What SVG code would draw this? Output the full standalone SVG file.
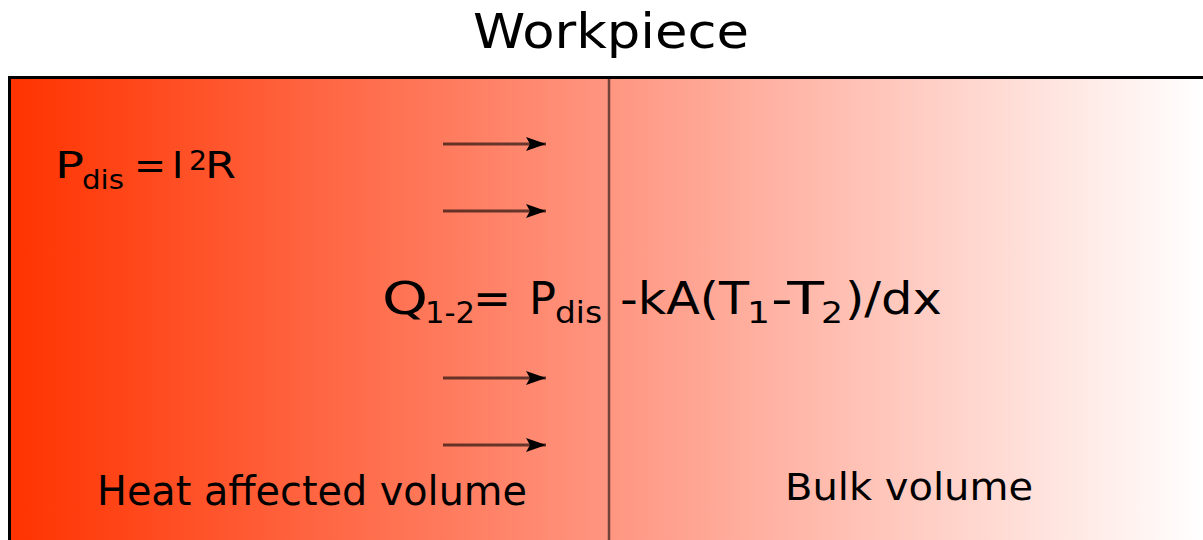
<svg xmlns="http://www.w3.org/2000/svg" width="1203" height="540" viewBox="0 0 1203 540">
<defs>
<linearGradient id="heat" x1="10" y1="0" x2="1203" y2="0" gradientUnits="userSpaceOnUse">
<stop offset="0" stop-color="#ff3300"/>
<stop offset="0.5" stop-color="#ff9580"/>
<stop offset="1" stop-color="#ffffff"/>
</linearGradient>
<marker id="ah" markerWidth="20" markerHeight="14" refX="20" refY="7" orient="auto" markerUnits="userSpaceOnUse">
<path d="M0,0 L20,7 L0,14 L4,7 Z" fill="#000"/>
</marker>
<style>
text{font-family:"DejaVu Sans","Verdana",sans-serif;fill:#000}
.m{font-size:44px}
.s{font-size:30px}
.pm{font-size:38px}
.ps{font-size:26px}
.flow{stroke:#000;stroke-opacity:0.6;stroke-width:3;fill:none}
</style>
</defs>
<rect width="1203" height="540" fill="#fff"/>
<g id="workpiece">
<rect x="9.5" y="77.5" width="1200" height="470" fill="url(#heat)" stroke="#000" stroke-width="3"/>
<line x1="609" y1="79" x2="609" y2="540" stroke="#000" stroke-opacity="0.55" stroke-width="2.5"/>
</g>
<g id="title"><text x="473" y="48" font-size="48" textLength="276" lengthAdjust="spacingAndGlyphs">Workpiece</text></g>
<g id="pdis">
<text class="pm" x="55" y="178" textLength="29" lengthAdjust="spacingAndGlyphs">P</text>
<text class="ps" x="82" y="189" textLength="42" lengthAdjust="spacingAndGlyphs">dis</text>
<text class="pm" x="134" y="178" textLength="32" lengthAdjust="spacingAndGlyphs">=</text>
<text class="pm" x="172" y="178">I</text>
<text x="189" y="170" font-size="27" textLength="18" lengthAdjust="spacingAndGlyphs">2</text>
<text class="pm" x="205" y="178" textLength="31" lengthAdjust="spacingAndGlyphs">R</text>
</g>
<g id="equation">
<text class="m" x="382" y="314" textLength="46" lengthAdjust="spacingAndGlyphs">Q</text>
<text class="s" x="425" y="323" textLength="50" lengthAdjust="spacingAndGlyphs">1-2</text>
<text class="m" x="473" y="314" textLength="38" lengthAdjust="spacingAndGlyphs">=</text>
<text class="m" x="529" y="314" textLength="27" lengthAdjust="spacingAndGlyphs">P</text>
<text class="s" x="555" y="323" textLength="47" lengthAdjust="spacingAndGlyphs">dis</text>
<text class="m" x="620" y="314" textLength="129" lengthAdjust="spacingAndGlyphs">-kA(T</text>
<text class="s" x="747" y="323" textLength="23" lengthAdjust="spacingAndGlyphs">1</text>
<text class="m" x="771" y="314" textLength="53" lengthAdjust="spacingAndGlyphs">-T</text>
<text class="s" x="821" y="323" textLength="22" lengthAdjust="spacingAndGlyphs">2</text>
<text class="m" x="845" y="314" textLength="97" lengthAdjust="spacingAndGlyphs">)/dx</text>
</g>
<g id="heat-label"><text x="97" y="505" font-size="40" textLength="430" lengthAdjust="spacingAndGlyphs">Heat affected volume</text></g>
<g id="bulk-label"><text x="785" y="500" font-size="37" textLength="248" lengthAdjust="spacingAndGlyphs">Bulk volume</text></g>
<g id="connectors">
<line class="flow" x1="443" y1="144" x2="546" y2="144" marker-end="url(#ah)"/>
<line class="flow" x1="443" y1="211" x2="546" y2="211" marker-end="url(#ah)"/>
<line class="flow" x1="443" y1="378" x2="546" y2="378" marker-end="url(#ah)"/>
<line class="flow" x1="443" y1="445" x2="546" y2="445" marker-end="url(#ah)"/>
</g>
</svg>
